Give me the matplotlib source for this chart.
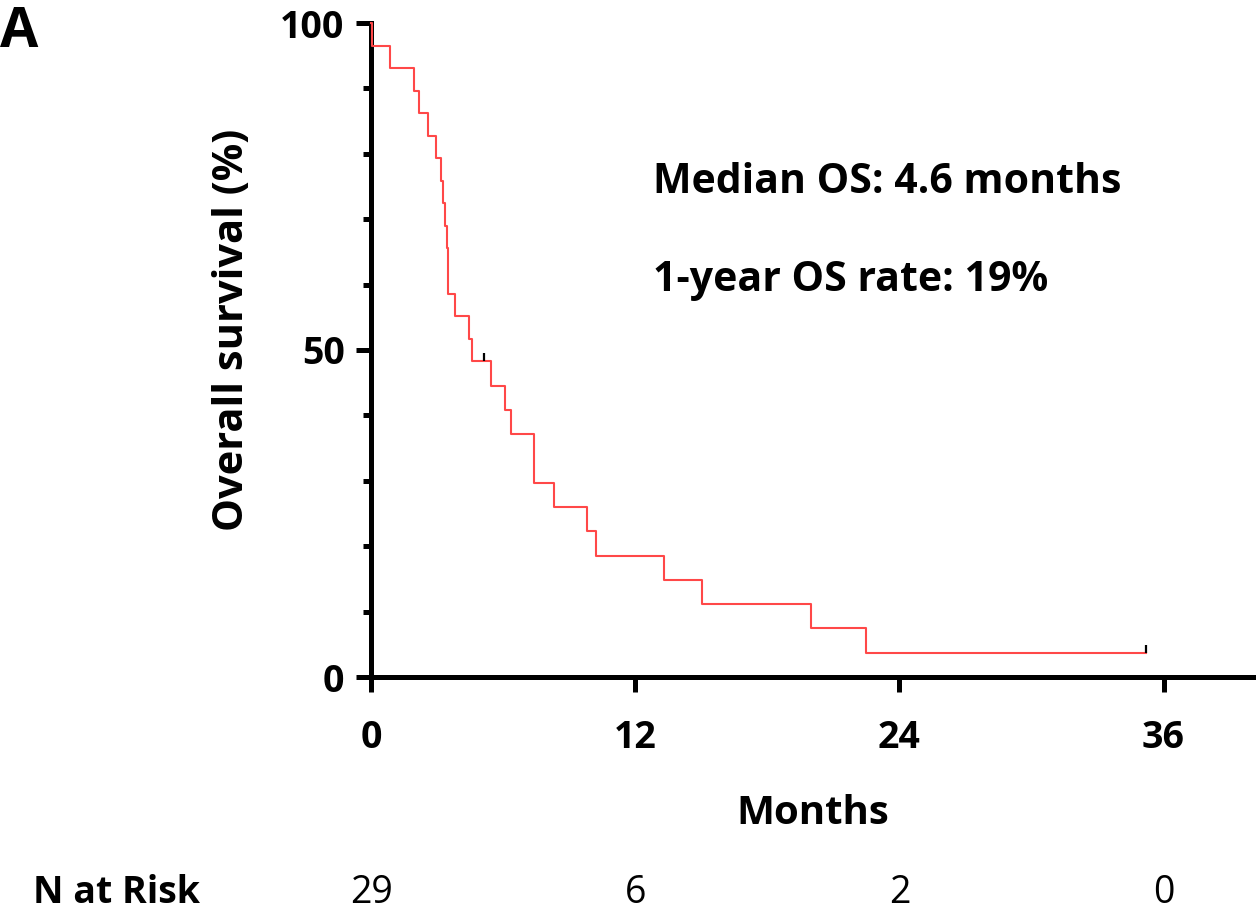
import matplotlib
matplotlib.use("Agg")
from matplotlib import pyplot as plt
from matplotlib.ticker import MultipleLocator
import numpy as np

# Kaplan-Meier steps (months, survival %)
event_times = [0.0, 0.05, 0.85, 1.95, 2.2, 2.6, 2.95, 3.2, 3.25, 3.36, 3.45, 3.5, 3.52,
               3.8, 4.45, 4.6, 5.45, 6.1, 6.36, 7.4, 7.42, 8.3, 9.8, 10.2, 13.3,
               15.05, 20.0, 22.5, 35.2]
survival = [100.0, 96.55, 93.10, 89.66, 86.21, 82.76, 79.31, 75.86, 72.41, 68.97, 65.52,
            62.07, 58.62, 55.17, 51.72, 48.28, 44.57, 40.86, 37.14, 33.43, 29.71,
            26.00, 22.29, 18.57, 14.86, 11.14, 7.43, 3.71, 3.71]
censor_times = [5.15, 35.2]

risk_months = [0, 12, 24, 36]
risk_counts = ["29", "6", "2", "0"]

W, H = 1256, 910
fig = plt.figure(figsize=(W / 100, H / 100), dpi=100)
ax = fig.add_axes([371 / W, (H - 677) / H, (W - 371) / W, 654 / H])

font = "Open Sans"
red = "#FF4848"

ax.step(event_times, survival, where="post", color=red, lw=1.5, clip_on=False, zorder=3)

# censor marks: short black ticks sitting on the curve
for ct in censor_times:
    idx = np.searchsorted(event_times, ct, side="right") - 1
    s = survival[idx]
    ax.plot([ct, ct], [s, s + 1.2], color="black", lw=1.6, solid_capstyle="butt", zorder=4)

ax.set_xlim(0, 40.2)
ax.set_ylim(0, 100)
ax.set_xticks(risk_months)
ax.set_yticks([0, 50, 100])
ax.yaxis.set_minor_locator(MultipleLocator(10))

for side in ["top", "right"]:
    ax.spines[side].set_visible(False)
for side in ["left", "bottom"]:
    ax.spines[side].set_linewidth(3.6)

ax.tick_params(axis="both", which="major", length=11, width=3.6, labelsize=27, pad=8)
ax.tick_params(axis="y", which="minor", length=6, width=3.6)
ax.tick_params(axis="x", pad=19)
for lab in ax.get_xticklabels() + ax.get_yticklabels():
    lab.set_fontfamily(font)
    lab.set_fontweight("bold")

# texts
fig.text(0 / W, 1 - 47 / H, "A", fontsize=40, fontweight="bold", family=font,
         ha="left", va="baseline")
fig.text(653 / W, 1 - 193 / H, "Median OS: 4.6 months", fontsize=29.5, fontweight="bold",
         family=font, ha="left", va="baseline")
fig.text(653 / W, 1 - 291 / H, "1-year OS rate: 19%", fontsize=29.5, fontweight="bold",
         family=font, ha="left", va="baseline")
fig.text(233 / W, 1 - 330 / H, "Overall survival (%)", fontsize=30, fontweight="bold",
         family=font, rotation=90, ha="center", va="center")
fig.text(813 / W, 1 - 824 / H, "Months", fontsize=29, fontweight="bold",
         family=font, ha="center", va="baseline")

fig.text(33 / W, 1 - 903 / H, "N at Risk", fontsize=27, fontweight="bold",
         family=font, ha="left", va="baseline")
for m, n in zip(risk_months, risk_counts):
    xf = ax.transData.transform((m, 0))[0] / W
    fig.text(xf, 1 - 903 / H, n, fontsize=27, family=font, ha="center", va="baseline")

fig.savefig("out.png", dpi=100)
